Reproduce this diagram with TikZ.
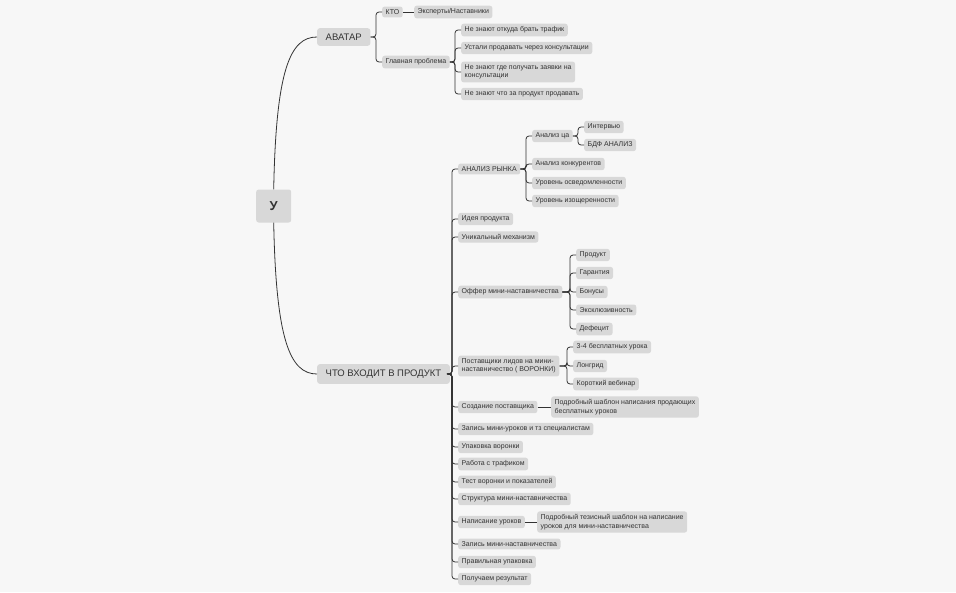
\documentclass[tikz,border=0pt]{standalone}
\usepackage{fontspec}
\setmainfont{Liberation Sans}
\begin{document}
\begin{tikzpicture}[x=1pt,y=-1pt,
  box/.style={fill=boxgray,rounded corners=2.5pt,text=txt,inner xsep=3.5pt,inner ysep=3pt,anchor=west,align=left,font=\fontsize{7}{8.6}\selectfont},
  big/.style={box,font=\fontsize{9.5}{11}\selectfont,inner xsep=8.5pt,inner ysep=5.5pt},
  ln/.style={draw=linec,line width=0.8pt,rounded corners=3pt}]
\definecolor{boxgray}{HTML}{D8D8D8}
\definecolor{txt}{HTML}{333333}
\definecolor{linec}{HTML}{333333}
\fill[fill={rgb,255:red,247;green,247;blue,247}] (0,0) rectangle (956,592);
\useasboundingbox (0,0) rectangle (956,592);
\node[box,font=\fontsize{13}{15}\selectfont\bfseries,minimum width=35pt,minimum height=33pt,align=center] (U) at (256,206) {У};
\node[big] (A) at (317,37) {АВАТАР};
\node[big] (W) at (317,374) {ЧТО ВХОДИТ В ПРОДУКТ};
\draw[ln] (U.north) .. controls (276,70) and (290,37) .. (A.west);
\draw[ln] (U.south) .. controls (276,340) and (290,374) .. (W.west);
% spine coordinates
\coordinate (sA) at (376,0);
\coordinate (sG) at (455,0);
\coordinate (sW) at (452,0);
\coordinate (sR) at (526,0);
\coordinate (sC) at (578,0);
\coordinate (sO) at (570,0);
\coordinate (sP) at (567,0);
% avatar
\node[box] (kto) at (382,12) {КТО};
\node[box] (exp) at (414,12) {Эксперты/Наставники};
\node[box] (gp) at (382,62) {Главная проблема};
\node[box] (p1) at (461,30) {Не знают откуда брать трафик};
\node[box] (p2) at (461,48) {Устали продавать через консультации};
\node[box] (p3) at (461,72) {Не знают где получать заявки на\\консультации};
\node[box] (p4) at (461,94) {Не знают что за продукт продавать};
\foreach \c in {kto,gp} \draw[ln] (A.east) -- (sA |- A.east) |- (\c.west);
\draw[ln] (kto.east) -- (exp.west);
\foreach \c in {p1,p2,p3,p4} \draw[ln] (gp.east) -- (sG |- gp.east) |- (\c.west);
% product
\node[box] (ar) at (458,169) {АНАЛИЗ РЫНКА};
\node[box] (ca) at (532,136) {Анализ ца};
\node[box] (iv) at (584,127) {Интервью};
\node[box] (bdf) at (584,145) {БДФ АНАЛИЗ};
\node[box] (ak) at (532,164) {Анализ конкурентов};
\node[box] (uo) at (532,183) {Уровень осведомленности};
\node[box] (ui) at (532,201) {Уровень изощеренности};
\node[box] (ip) at (458,219) {Идея продукта};
\node[box] (um) at (458,237) {Уникальный механизм};
\node[box] (of) at (458,292) {Оффер мини-наставничества};
\node[box] (o1) at (576,255) {Продукт};
\node[box] (o2) at (576,273) {Гарантия};
\node[box] (o3) at (576,292) {Бонусы};
\node[box] (o4) at (576,310) {Эксклюзивность};
\node[box] (o5) at (576,329) {Дефецит};
\node[box] (pl) at (458,366) {Поставщики лидов на мини-\\наставничество ( ВОРОНКИ)};
\node[box] (l1) at (573,347) {3-4 бесплатных урока};
\node[box] (l2) at (573,366) {Лонгрид};
\node[box] (l3) at (573,384) {Короткий вебинар};
\node[box] (sp) at (458,407) {Создание поставщика};
\node[box] (sp1) at (551,407) {Подробный шаблон написания продающих\\бесплатных уроков};
\node[box] (b1) at (458,429) {Запись мини-уроков и тз специалистам};
\node[box] (b2) at (458,447) {Упаковка воронки};
\node[box] (b3) at (458,464) {Работа с трафиком};
\node[box] (b4) at (458,482) {Тест воронки и показателей};
\node[box] (b5) at (458,499) {Структура мини-наставничества};
\node[box] (nu) at (458,522) {Написание уроков};
\node[box] (nu1) at (537,522) {Подробный тезисный шаблон на написание\\уроков для мини-наставничества};
\node[box] (b6) at (458,544) {Запись мини-наставничества};
\node[box] (b7) at (458,562) {Правильная упаковка};
\node[box] (b8) at (458,579) {Получаем результат};
\foreach \c in {ar,ip,um,of,pl,sp,b1,b2,b3,b4,b5,nu,b6,b7,b8} \draw[ln] (W.east) -- (sW |- W.east) |- (\c.west);
\foreach \c in {ca,ak,uo,ui} \draw[ln] (ar.east) -- (sR |- ar.east) |- (\c.west);
\foreach \c in {iv,bdf} \draw[ln] (ca.east) -- (sC |- ca.east) |- (\c.west);
\foreach \c in {o1,o2,o3,o4,o5} \draw[ln] (of.east) -- (sO |- of.east) |- (\c.west);
\foreach \c in {l1,l2,l3} \draw[ln] (pl.east) -- (sP |- pl.east) |- (\c.west);
\draw[ln] (sp.east) -- (sp1.west);
\draw[ln] (nu.east) -- (nu1.west);
\end{tikzpicture}
\end{document}
